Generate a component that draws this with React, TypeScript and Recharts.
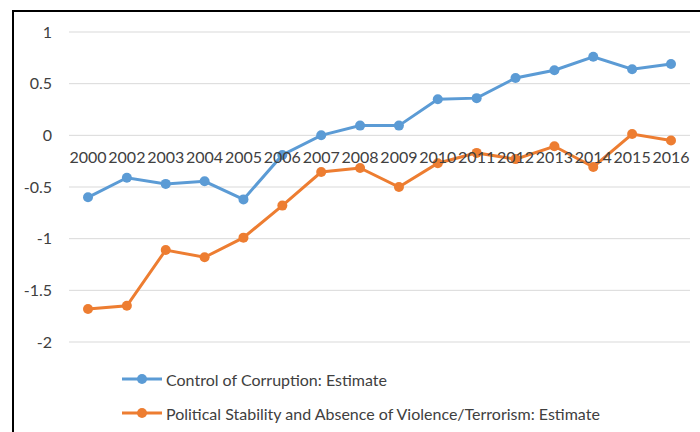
import { LineChart, Line, XAxis, YAxis, CartesianGrid } from "recharts";

const years = ["2000", "2002", "2003", "2004", "2005", "2006", "2007", "2008", "2009", "2010", "2011", "2012", "2013", "2014", "2015", "2016"];
const corruption = [-0.6, -0.41, -0.47, -0.445, -0.62, -0.19, 0.0, 0.094, 0.094, 0.35, 0.36, 0.555, 0.63, 0.76, 0.64, 0.69];
const stability = [-1.68, -1.65, -1.11, -1.18, -0.99, -0.68, -0.355, -0.316, -0.5, -0.27, -0.17, -0.23, -0.106, -0.306, 0.013, -0.05];
const yTicks = [-2, -1.5, -1, -0.5, 0, 0.5, 1];

const seriesNames = [
  "Control of Corruption: Estimate",
  "Political Stability and Absence of Violence/Terrorism: Estimate",
];
const colors = ["#5B9BD5", "#ED7D31"];

const data = years.map((year, i) => ({
  year,
  corruption: corruption[i],
  stability: stability[i],
}));

const W = 700;
const H = 432;
const TOP = 32;
const BOTTOM = 90;
const Y_MIN = -2;
const Y_MAX = 1;
const PLOT_H = H - TOP - BOTTOM;
const zeroY = TOP + (PLOT_H * (Y_MAX - 0)) / (Y_MAX - Y_MIN);
const font = "Lato, 'DejaVu Sans', sans-serif";

// Excel puts the category labels next to the axis crossing at 0, not at the bottom
function YearTick(props: any) {
  const { x, payload } = props;
  return (
    <text x={x} y={zeroY + 24} textAnchor="middle" dominantBaseline="middle" fill="#404040" fontSize={16} fontFamily={font}>
      {payload.value}
    </text>
  );
}

function LegendBox() {
  return (
    <div style={{ fontFamily: font, fontSize: 16, color: "#404040" }}>
      {seriesNames.map((name, i) => (
        <div key={name} style={{ display: "flex", alignItems: "center", height: 34 }}>
          <svg width={42} height={12} style={{ marginRight: 2 }}>
            <line x1={0} y1={6} x2={40} y2={6} stroke={colors[i]} strokeWidth={3} />
            <circle cx={20} cy={6} r={5} fill={colors[i]} />
          </svg>
          <span>{name}</span>
        </div>
      ))}
    </div>
  );
}

export default function App() {
  return (
    <div style={{ position: "absolute", left: 0, top: 0, width: W, height: H, background: "#fff", overflow: "hidden" }}>
      <div
        style={{
          position: "absolute",
          left: 12,
          top: 10,
          width: W,
          height: H,
          borderTop: "2px solid #000",
          borderLeft: "2px solid #000",
        }}
      />
      <div style={{ position: "absolute", left: 0, top: 0 }}>
        <LineChart width={W} height={H} data={data} margin={{ top: TOP, right: 10, bottom: 0, left: 0 }}>
          <CartesianGrid vertical={false} stroke="#d9d9d9" strokeWidth={1} />
          <XAxis
            dataKey="year"
            axisLine={false}
            tickLine={false}
            height={BOTTOM}
            tick={<YearTick />}
            interval={0}
            padding={{ left: 19, right: 19 }}
          />
          <YAxis
            domain={[Y_MIN, Y_MAX]}
            ticks={yTicks}
            axisLine={false}
            tickLine={false}
            tickSize={0}
            tickMargin={17}
            width={69}
            tick={{ fill: "#404040", fontSize: 16, fontFamily: font }}
          />
          <Line
            dataKey="corruption"
            name={seriesNames[0]}
            stroke={colors[0]}
            strokeWidth={3}
            dot={{ r: 5, fill: colors[0], stroke: colors[0], strokeWidth: 0 }}
            isAnimationActive={false}
          />
          <Line
            dataKey="stability"
            name={seriesNames[1]}
            stroke={colors[1]}
            strokeWidth={3}
            dot={{ r: 5, fill: colors[1], stroke: colors[1], strokeWidth: 0 }}
            isAnimationActive={false}
          />
        </LineChart>
      </div>
      <div style={{ position: "absolute", left: 122, top: 362 }}>
        <LegendBox />
      </div>
    </div>
  );
}
